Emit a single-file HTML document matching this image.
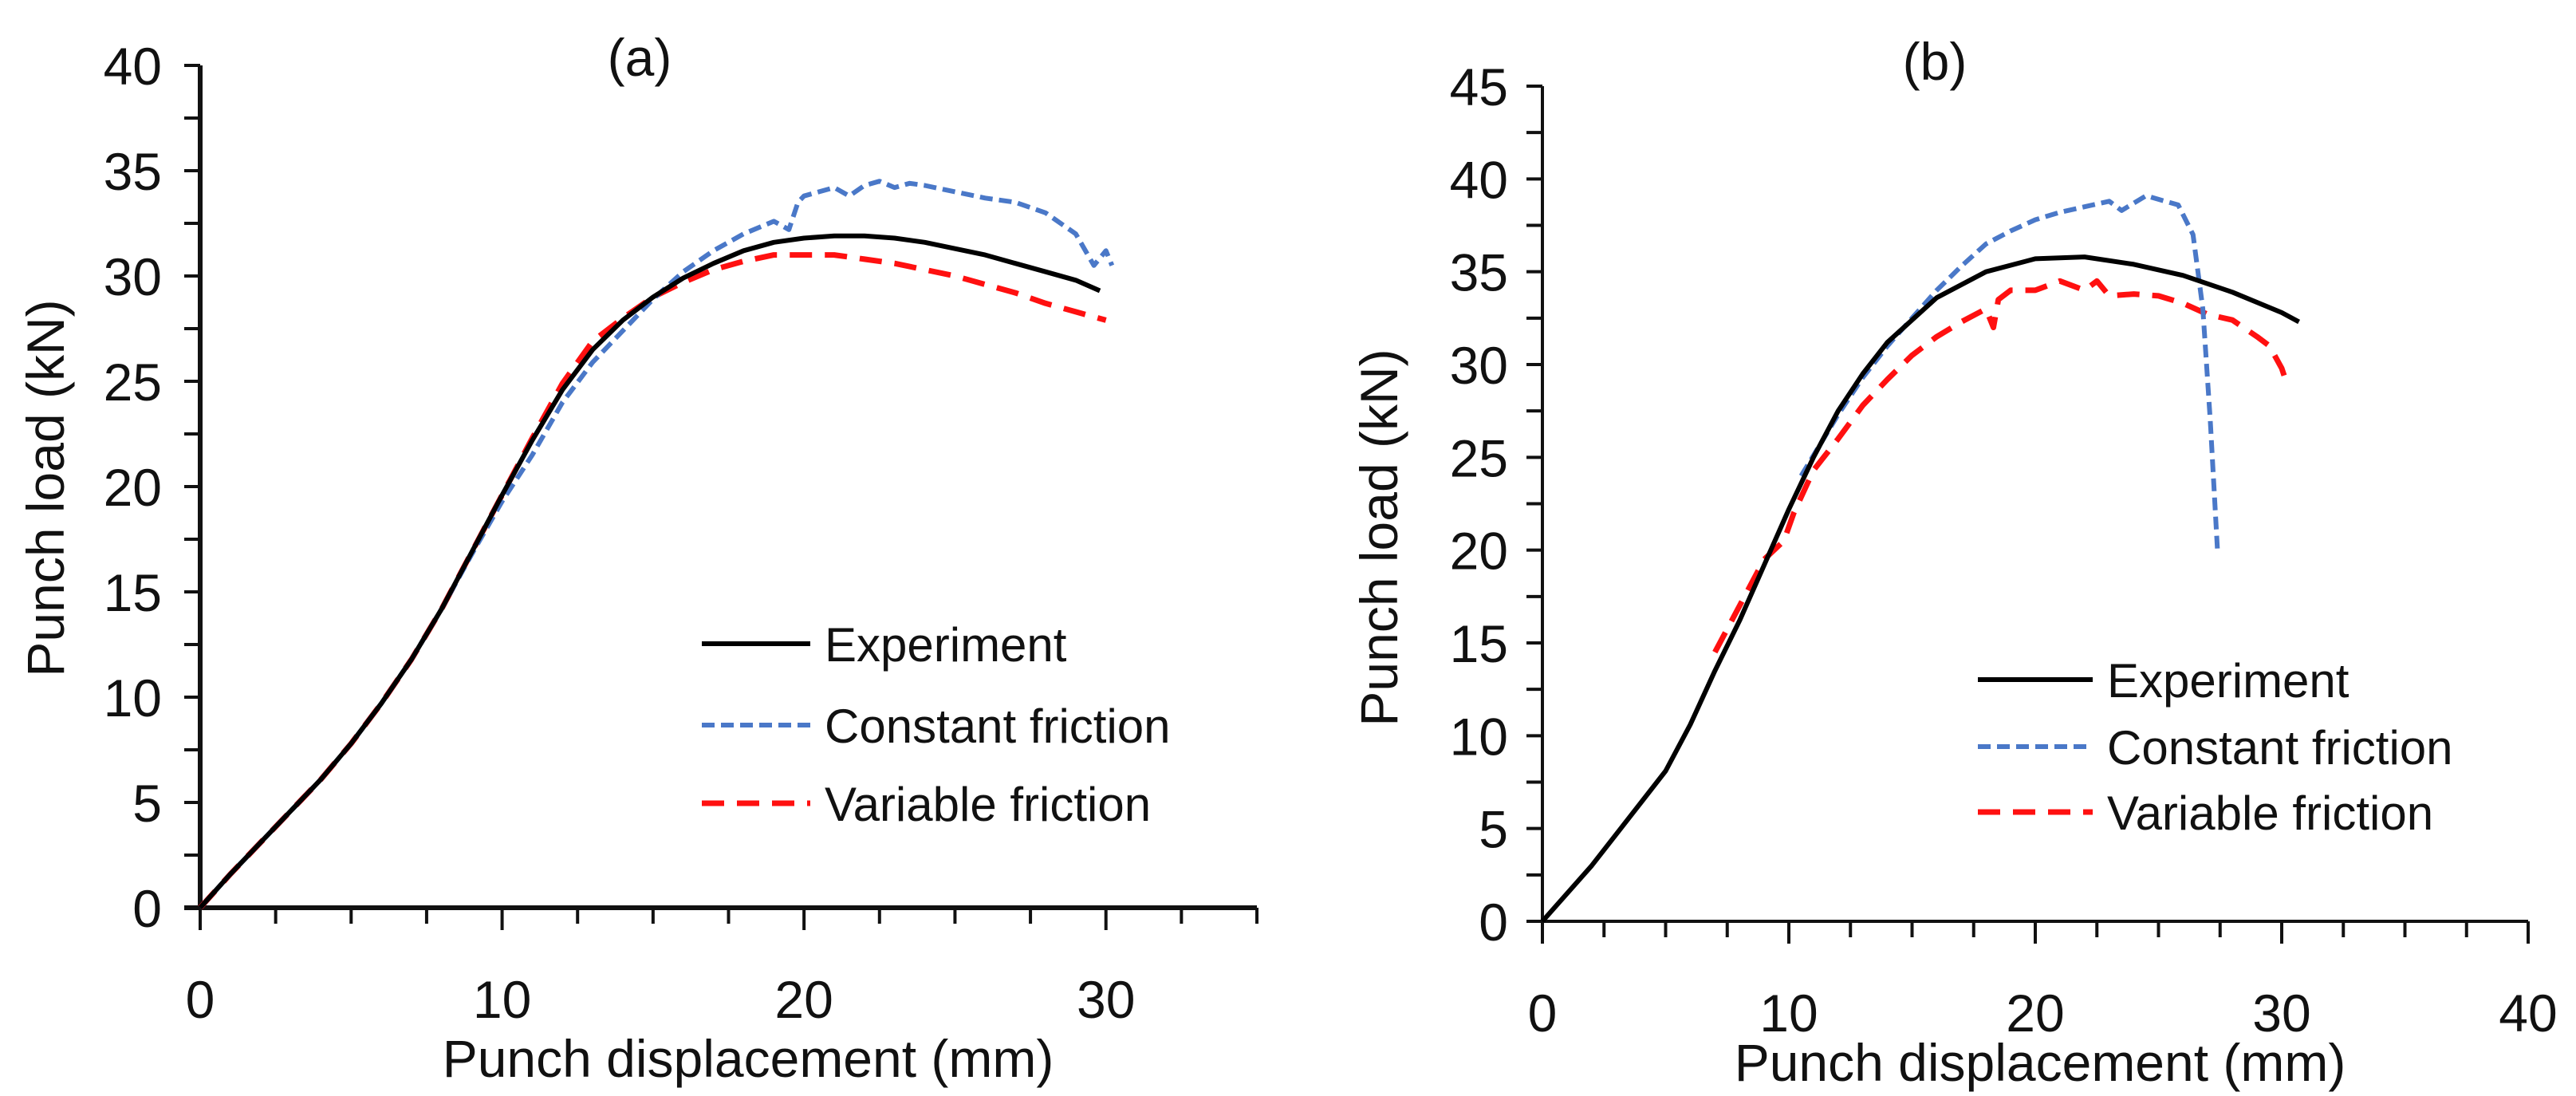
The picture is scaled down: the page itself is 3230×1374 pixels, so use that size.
<!DOCTYPE html>
<html><head><meta charset="utf-8"><style>
html,body{margin:0;padding:0;background:#fff;}
svg{display:block;}
text{font-family:"Liberation Sans",sans-serif;fill:#111;}
</style></head><body>
<svg id="fig" width="3230" height="1374" viewBox="0 0 3230 1374" xmlns="http://www.w3.org/2000/svg"></svg>
<script>
// ---- Chart (a) data ----
const aExpX = [0,1,2,3,4,5,6,7,8,9,10,11,12,13,14,15,16,17,18,19,20,21,22,23,24,25,26,27,28,29,29.8];
const aExpY = [0,1.6,3.1,4.6,6.1,7.8,9.7,11.8,14.2,16.9,19.6,22.2,24.6,26.5,27.9,29,29.9,30.6,31.2,31.6,31.8,31.9,31.9,31.8,31.6,31.3,31,30.6,30.2,29.8,29.3];
const aConX = [0,1,2,3,4,5,6,7,8,9,10,11,12,13,14,15,16,17,18,19,19.5,19.8,20,21,21.5,22,22.5,23,23.5,24,25,26,27,28,29,29.6,30,30.2];
const aConY = [0,1.6,3.1,4.6,6.1,7.8,9.7,11.8,14.2,16.8,19.3,21.5,24,25.9,27.4,28.9,30.2,31.2,32,32.6,32.2,33.5,33.8,34.2,33.8,34.3,34.5,34.2,34.4,34.3,34,33.7,33.5,33,32,30.5,31.2,30.5];
const aVarX = [0,1,2,3,4,5,6,7,8,9,10,11,12,13,14,15,16,17,18,19,20,21,22,23,24,25,26,27,28,29,30];
const aVarY = [0,1.6,3.1,4.6,6.1,7.8,9.7,11.8,14.2,16.9,19.6,22.3,24.9,26.9,28,29,29.7,30.3,30.7,31,31,31,30.8,30.6,30.3,30,29.6,29.2,28.7,28.3,27.9];
const aXTicks = [0,10,20,30];
const aYTicks = [0,5,10,15,20,25,30,35,40];
// ---- Chart (b) data ----
const bExpX = [0,2,4,5,6,7,8,9,10,11,12,13,14,16,18,20,22,24,26,28,30,30.7];
const bExpY = [0,3,6.4,8.1,10.6,13.5,16.2,19.2,22.2,25,27.5,29.5,31.2,33.6,35,35.7,35.8,35.4,34.8,33.9,32.8,32.3];
const bConX = [10.5,12,13,14,15,16,17,18,19,20,21,22,23,23.5,24,24.5,25,25.8,26.4,26.8,27.1,27.4];
const bConY = [24,27.3,29.3,31,32.5,34,35.3,36.5,37.2,37.8,38.2,38.5,38.8,38.3,38.7,39.1,38.9,38.6,37,33,27,19.8];
const bVarX = [7,8,9,9.8,10.2,11,12,13,14,15,16,17,18,18.3,18.5,19,20,21,22,22.5,23,24,25,26,27,28,29,29.5,30,30.2];
const bVarY = [14.5,17,19.5,20.5,22,24.3,26,27.8,29.2,30.5,31.5,32.3,33,32,33.5,34,34,34.5,34,34.5,33.7,33.8,33.7,33.3,32.7,32.4,31.5,31,29.8,29];
const bXTicks = [0,10,20,30,40];
const bYTicks = [0,5,10,15,20,25,30,35,40,45];

const NS = "http://www.w3.org/2000/svg";
const svg = document.getElementById('fig');
function mk(tag, attrs, parent){
  const e = document.createElementNS(NS, tag);
  for (const k in attrs) e.setAttribute(k, attrs[k]);
  (parent||svg).appendChild(e);
  return e;
}
function chart(cfg){
  const g = mk('g', {});
  
  
  const sx = v => cfg.x0 + (v - 0) * (cfg.x1 - cfg.x0) / cfg.xMax;
  const sy = v => cfg.y0 - v * (cfg.y0 - cfg.y1) / cfg.yMax;
  for (let v = 0; v <= cfg.yMax + 1e-6; v += 2.5) {
    const t = mk('line', {x1: cfg.x0 - 20, x2: cfg.x0, y1: sy(v), y2: sy(v), stroke: '#111', 'stroke-width': 4}, g);
    
    
  }
  for (let v = 0; v <= cfg.xMax + 1e-6; v += 2.5) {
    const major = Math.abs(v % 10) < 1e-6;
    const t = mk('line', {x1: sx(v), x2: sx(v), y1: cfg.y0, y2: cfg.y0 + (major ? 28 : 20), stroke: '#111', 'stroke-width': 4}, g);
    
    
  }
  const ya = mk('line', {x1: cfg.x0, x2: cfg.x0, y1: cfg.y1, y2: cfg.y0, stroke: '#111', 'stroke-width': cfg.axisW}, g);
  
  
  const xa = mk('line', {x1: cfg.x0 - 20, x2: cfg.x1, y1: cfg.y0, y2: cfg.y0, stroke: '#111', 'stroke-width': cfg.axisW}, g);
  
  
  cfg.yTicks.forEach(v => {
    const t = mk('text', {x: cfg.yLabRight, y: sy(v) + 24, 'font-size': 66, 'text-anchor': 'end'}, g);
    t.textContent = v;
    
    
  });
  cfg.xTicks.forEach(v => {
    const t = mk('text', {x: sx(v), y: cfg.y0 + 138, 'font-size': 66, 'text-anchor': 'middle'}, g);
    t.textContent = v;
    
    
  });
  const xt = mk('text', {x: cfg.xTitleX, y: cfg.xTitleY, 'font-size': 66, 'text-anchor': 'middle'}, g);
  xt.textContent = 'Punch displacement (mm)';
  
  
  const yt = mk('text', {x: 0, y: 0, 'font-size': 66, 'text-anchor': 'middle', transform: `translate(${cfg.yTitleX},${cfg.yTitleY}) rotate(-90)`}, g);
  yt.textContent = 'Punch load (kN)';
  
  
  const tt = mk('text', {x: cfg.titleX, y: cfg.titleY, 'font-size': 66, 'text-anchor': 'middle'}, g);
  tt.textContent = cfg.title;
  
  
  const styles = {
    exp: {stroke: '#000', 'stroke-width': 6},
    con: {stroke: '#4a78c8', 'stroke-width': 6, 'stroke-dasharray': '16 8'},
    vr:  {stroke: '#ff1010', 'stroke-width': 7, 'stroke-dasharray': '28 16'}
  };
  function series(xs, ys, st, nm){
    const d = xs.map((x, i) => (i ? 'L' : 'M') + sx(x).toFixed(1) + ' ' + sy(ys[i]).toFixed(1)).join(' ');
    const p = mk('path', Object.assign({d: d, fill: 'none', 'stroke-linejoin': 'round'}, st), g);
    
    
  }
  series(cfg.var[0], cfg.var[1], styles.vr, 'variable-friction-line');
  series(cfg.con[0], cfg.con[1], styles.con, 'constant-friction-line');
  series(cfg.exp[0], cfg.exp[1], styles.exp, 'experiment-line');
  const labels = ['Experiment', 'Constant friction', 'Variable friction'];
  const lst = [styles.exp, styles.con, styles.vr];
  labels.forEach((lab, i) => {
    const y = cfg.legRows[i];
    const l = mk('line', Object.assign({x1: cfg.legX1, x2: cfg.legX2, y1: y, y2: y}, lst[i]), g);
    
    
    const t = mk('text', {x: cfg.legX2 + 18, y: y + 22, 'font-size': 60}, g);
    t.textContent = lab;
    
    
  });
}
chart({name: 'chart-a', title: '(a)', x0: 251, x1: 1576, xMax: 35, y0: 1138, y1: 82, yMax: 40,
  axisW: 6, yTicks: aYTicks, xTicks: aXTicks, yLabRight: 203,
  xTitleX: 938, xTitleY: 1350, yTitleX: 80, yTitleY: 612, titleX: 802, titleY: 95,
  exp: [aExpX, aExpY], con: [aConX, aConY], var: [aVarX, aVarY],
  legX1: 880, legX2: 1016, legRows: [807, 909, 1007]});
chart({name: 'chart-b', title: '(b)', x0: 1934, x1: 3170, xMax: 40, y0: 1155, y1: 108, yMax: 45,
  axisW: 4, yTicks: bYTicks, xTicks: bXTicks, yLabRight: 1891,
  xTitleX: 2558, xTitleY: 1355, yTitleX: 1752, yTitleY: 674, titleX: 2426, titleY: 100,
  exp: [bExpX, bExpY], con: [bConX, bConY], var: [bVarX, bVarY],
  legX1: 2480, legX2: 2624, legRows: [852, 936, 1018]});
</script>
</body></html>
